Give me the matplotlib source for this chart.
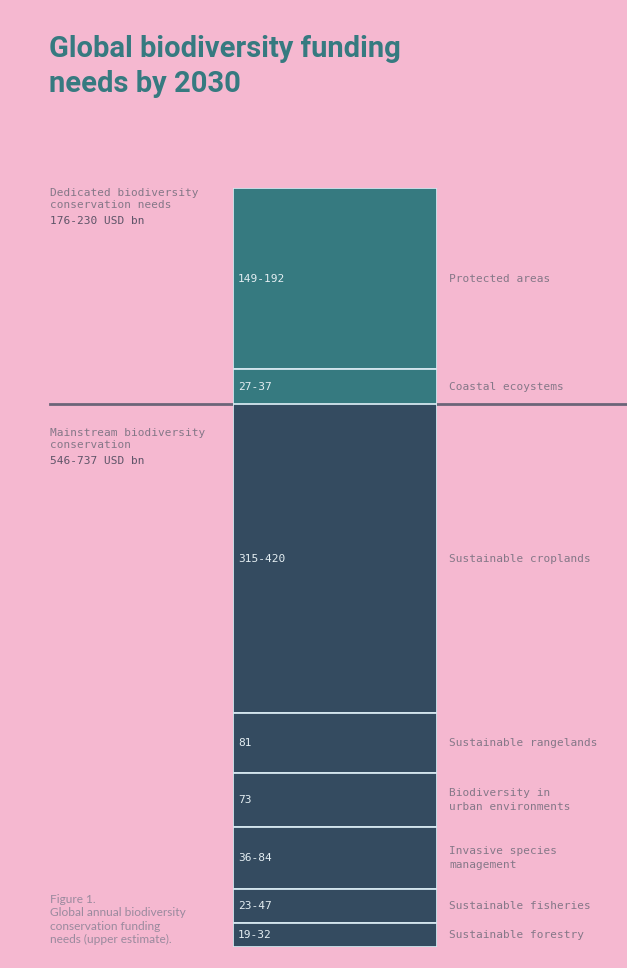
import matplotlib
matplotlib.use('Agg')
import matplotlib.pyplot as plt
from matplotlib.lines import Line2D
import matplotlib.transforms as mtransforms

BG = '#f5b8d0'
TEAL = '#367a80'
NAVY = '#344b60'
EDGE = '#d4e6ee'
LABEL = '#857888'
DARK = '#5e5468'

# Dedicated biodiversity conservation
ded_names = ['Protected areas', 'Coastal ecoystems']
ded_ranges = ['149-192', '27-37']
ded_upper = [192, 37]

# Mainstream biodiversity conservation
main_names = ['Sustainable croplands', 'Sustainable rangelands',
              'Biodiversity in\nurban environments', 'Invasive species\nmanagement',
              'Sustainable fisheries', 'Sustainable forestry']
main_ranges = ['315-420', '81', '73', '36-84', '23-47', '19-32']
main_upper = [420, 81, 73, 84, 47, 32]

W, H = 627, 968
fig = plt.figure(figsize=(W / 100, H / 100), dpi=100, facecolor=BG)

bar_left, bar_w = 233 / W, 204 / W
ax_top = fig.add_axes([bar_left, 1 - 404 / H, bar_w, 216 / H])
ax_bot = fig.add_axes([bar_left, 1 - 947 / H, bar_w, 543 / H])


def draw_stack(ax, names_, ranges_, values, color):
    total = sum(values)
    bottoms = [sum(values[:i]) for i in range(len(values))]
    ax.bar([0.5] * len(values), values, bottom=bottoms, width=1.0,
           color=color, edgecolor=EDGE, linewidth=1.3)
    ax.set_xlim(0, 1)
    ax.set_ylim(total, 0)
    ax.axis('off')
    trans = mtransforms.blended_transform_factory(ax.transAxes, ax.transData)
    for b, v, r, n in zip(bottoms, values, ranges_, names_):
        mid = b + v / 2
        ax.text(0.025, mid, r, transform=trans, ha='left', va='center',
                family='DejaVu Sans Mono', fontsize=8, color='#e4eef2')
        ax.text(1.06, mid, n, transform=trans, ha='left', va='center',
                family='DejaVu Sans Mono', fontsize=8, color=LABEL,
                linespacing=1.45)


draw_stack(ax_top, ded_names, ded_ranges, ded_upper, TEAL)
draw_stack(ax_bot, main_names, main_ranges, main_upper, NAVY)

# divider between the two groups
fig.add_artist(Line2D([50 / W, 1.0], [1 - 404 / H, 1 - 404 / H],
                      color='#6b6478', linewidth=2, zorder=-1))

# title
fig.text(49 / W, 1 - 35 / H, 'Global biodiversity funding\nneeds by 2030',
         ha='left', va='top', family='Roboto', fontweight='bold',
         fontsize=21, color=TEAL, linespacing=1.32)

# group labels
fig.text(50 / W, 1 - 188 / H, 'Dedicated biodiversity\nconservation needs',
         ha='left', va='top', family='DejaVu Sans Mono', fontsize=8,
         color=LABEL, linespacing=1.3)
fig.text(50 / W, 1 - 216 / H, '176-230 USD bn', ha='left', va='top',
         family='DejaVu Sans Mono', fontsize=8, color=DARK)
fig.text(50 / W, 1 - 428 / H, 'Mainstream biodiversity\nconservation',
         ha='left', va='top', family='DejaVu Sans Mono', fontsize=8,
         color=LABEL, linespacing=1.3)
fig.text(50 / W, 1 - 456 / H, '546-737 USD bn', ha='left', va='top',
         family='DejaVu Sans Mono', fontsize=8, color=DARK)

# caption
fig.text(50 / W, 1 - 894 / H,
         'Figure 1.\nGlobal annual biodiversity\nconservation funding\nneeds (upper estimate).',
         ha='left', va='top', family='Lato', fontsize=8.6, color='#9a8a9e',
         linespacing=1.25)

plt.savefig('out.png', dpi=100, facecolor=BG)
plt.close()
